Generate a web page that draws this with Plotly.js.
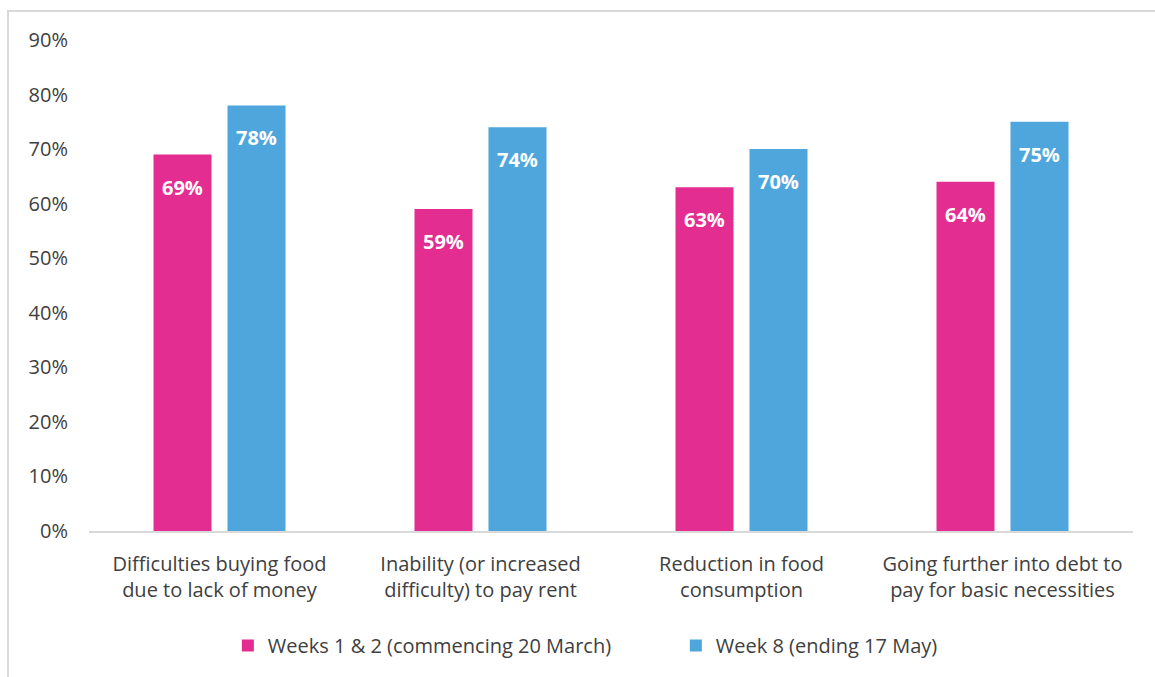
<!DOCTYPE html>
<html>
<head>
<meta charset="utf-8">
<script src="https://cdn.plot.ly/plotly-3.0.1.min.js"></script>
<style>
html,body{margin:0;padding:0;background:#fff;overflow:hidden;}
#chart{position:absolute;left:0;top:0;width:1155px;height:677px;}
#frame{position:absolute;left:7px;top:10px;width:1200px;height:700px;border:2px solid #d9d9d9;pointer-events:none;}
</style>
</head>
<body>
<div id="chart"></div>
<div id="frame"></div>
<script>
const categories = [
  "Difficulties buying food<br>due to lack of money",
  "Inability (or increased<br>difficulty) to pay rent",
  "Reduction in food<br>consumption",
  "Going further into debt to<br>pay for basic necessities"
];
const seriesNames = ["Weeks 1 & 2 (commencing 20 March)", "Week 8 (ending 17 May)"];
const weeks12 = [0.69, 0.59, 0.63, 0.64];
const week8 = [0.78, 0.74, 0.70, 0.75];
const colors = ["#E32D91", "#4EA6DC"];
const yTicks = [0, 0.1, 0.2, 0.3, 0.4, 0.5, 0.6, 0.7, 0.8, 0.9];

const font = "Open Sans, Noto Sans, sans-serif";
const series = [weeks12, week8];
const traces = series.map((vals, i) => ({
  type: "bar",
  name: seriesNames[i],
  x: categories,
  y: vals,
  marker: {color: colors[i]},
  hoverinfo: "none"
}));

const annotations = [];
series.forEach((vals, si) => {
  vals.forEach((v, ci) => {
    annotations.push({
      x: ci + (si === 0 ? -0.1418 : 0.1418),
      y: v,
      xref: "x",
      yref: "y",
      text: "<b>" + Math.round(v * 100) + "%</b>",
      showarrow: false,
      yanchor: "top",
      yshift: -17,
      font: {family: font, size: 20, color: "#ffffff"}
    });
  });
});

const layout = {
  width: 1155,
  height: 677,
  margin: {l: 89, r: 22, t: 40, b: 146},
  paper_bgcolor: "rgba(0,0,0,0)",
  plot_bgcolor: "#ffffff",
  barmode: "group",
  bargap: 0.433,
  bargroupgap: 0.216,
  showlegend: true,
  legend: {
    orientation: "h",
    x: 0.133, xanchor: "left",
    y: -0.233, yanchor: "middle",
    font: {family: font, size: 20, color: "#404040"},
    itemwidth: 20,
    entrywidth: 403,
    traceorder: "normal"
  },
  xaxis: {
    type: "category",
    showline: true,
    linecolor: "#d9d9d9",
    linewidth: 2,
    showgrid: false,
    ticks: "",
    tickfont: {family: font, size: 20, color: "#404040"},
    ticklabelstandoff: 14
  },
  yaxis: {
    range: [0, 0.9],
    tickvals: yTicks,
    tickformat: ".0%",
    showgrid: false,
    zeroline: false,
    showline: false,
    ticks: "",
    ticklabelstandoff: 20,
    tickfont: {family: font, size: 20, color: "#404040"}
  },
  annotations: annotations,
  font: {family: font}
};

Plotly.newPlot("chart", traces, layout, {displayModeBar: false, staticPlot: true});
</script>
</body>
</html>
